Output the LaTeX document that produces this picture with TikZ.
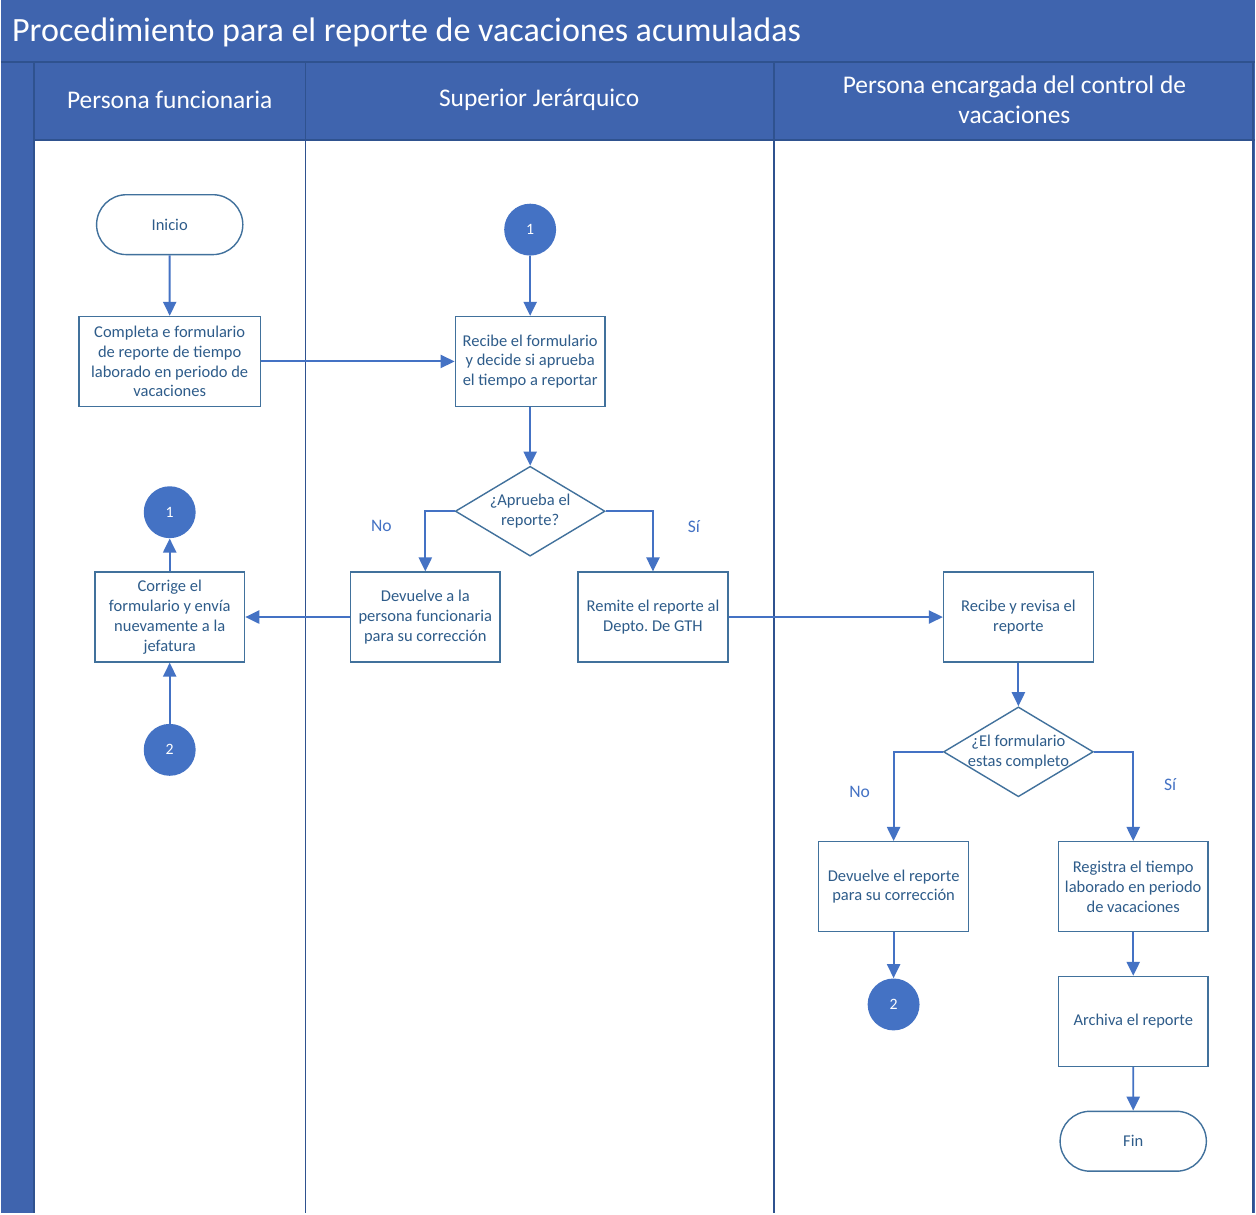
\documentclass[tikz,border=0pt]{standalone}
\usepackage{fontspec}
\setmainfont{Carlito}
\usetikzlibrary{arrows.meta,positioning,shapes.geometric,shapes.misc}
\definecolor{carril}{HTML}{3F64AE}
\definecolor{borde}{HTML}{2F528F}
\definecolor{trazo}{HTML}{41719C}
\definecolor{flecha}{HTML}{4472C4}
\definecolor{letra}{HTML}{2E5C8A}
\frenchspacing

\begin{document}
\begin{tikzpicture}[x=0.02cm,y=-0.02cm,
  caja/.style={draw=trazo,line width=0.8pt,fill=white,minimum width=3cm,minimum height=1.8cm,
               align=center,font=\fontsize{9.4}{11.3}\selectfont,text=letra,inner sep=1pt},
  terminal/.style={caja,rounded rectangle,minimum height=1.2cm},
  decision/.style={draw=trazo,line width=0.8pt,fill=white,diamond,aspect=1.67,minimum width=3cm,
               minimum height=1.8cm,align=center,font=\fontsize{9.4}{11.3}\selectfont,text=letra,inner sep=-3pt},
  conector/.style={circle,fill=flecha,minimum size=1.04cm,text=white,font=\fontsize{9}{11}\selectfont,inner sep=0pt},
  etiqueta/.style={text=flecha,font=\fontsize{10}{12}\selectfont},
  cabecera/.style={text=white,font=\fontsize{14.5}{17}\selectfont,align=center},
  linea/.style={draw=flecha,line width=1.1pt,-{Triangle[length=8pt,width=7.5pt]}}]

% carriles
\fill[carril] (0,0) rectangle (1256,1215);
\fill[white] (33,140) rectangle (1253,1215);
\draw[borde,line width=1.1pt] (0,62) -- (1256,62);
\draw[borde,line width=1.1pt] (33,140) -- (1256,140);
\draw[borde,line width=1.1pt] (33,62) -- (33,1215);
\draw[borde,line width=1.1pt] (305,62) -- (305,1215);
\draw[borde,line width=1.1pt] (774,62) -- (774,1215);
\draw[borde,line width=1.1pt] (1254,62) -- (1254,1215);

\node[anchor=west,text=white,font=\fontsize{19.4}{22}\selectfont] (titulo) at (5,32) {Procedimiento para el reporte de vacaciones acumuladas};
\node[cabecera] (carril1) at (169,100) {Persona funcionaria};
\node[cabecera] (carril2) at (539,100) {Superior Jerárquico};
\node[cabecera] (carril3) at (1015,100) {Persona encargada del control de\\vacaciones};

% nodos
\node[terminal] (inicio) at (169,225) {Inicio};
\node[caja,minimum width=3.64cm] (completa) at (169,362) {Completa e formulario\\de reporte de tiempo\\laborado en periodo de\\vacaciones};
\node[conector] (uno) at (530,230) {1};
\node[caja] (recibe) at (530,362) {Recibe el formulario\\y decide si aprueba\\el tiempo a reportar};
\node[decision] (aprueba) at (530,512) {¿Aprueba el\\reporte?};
\node[caja] (devuelve) at (425,618) {Devuelve a la\\persona funcionaria\\para su corrección};
\node[caja] (remite) at (653,618) {Remite el reporte al\\Depto. De GTH};
\node[caja] (corrige) at (169,618) {Corrige el\\formulario y envía\\nuevamente a la\\jefatura};
\node[conector] (unob) at (169,513) {1};
\node[conector] (dos) at (169,751) {2};
\node[caja] (revisa) at (1019,618) {Recibe y revisa el\\reporte};
\node[decision] (completo) at (1019,753) {¿El formulario\\estas completo};
\node[caja] (devrep) at (894,888) {Devuelve el reporte\\para su corrección};
\node[caja] (registra) at (1134,888) {Registra el tiempo\\laborado en periodo\\de vacaciones};
\node[conector] (dosb) at (894,1006) {2};
\node[caja] (archiva) at (1134,1023) {Archiva el reporte};
\node[terminal] (fin) at (1134,1143) {Fin};

\node[etiqueta] (no1) at (381,527) {No};
\node[etiqueta] (si1) at (694,527) {Sí};
\node[etiqueta] (no2) at (860,793) {No};
\node[etiqueta] (si2) at (1171,786) {Sí};

% conexiones
\draw[linea] (inicio) -- (completa);
\draw[linea] (completa) -- (recibe);
\draw[linea] (uno) -- (recibe);
\draw[linea] (recibe) -- (aprueba);
\draw[linea] (aprueba.west) -| (devuelve.north);
\draw[linea] (aprueba.east) -| (remite.north);
\draw[linea] (devuelve) -- (corrige);
\draw[linea] (corrige) -- (unob);
\draw[linea] (dos) -- (corrige);
\draw[linea] (remite) -- (revisa);
\draw[linea] (revisa) -- (completo);
\draw[linea] (completo.west) -| (devrep.north);
\draw[linea] (completo.east) -| (registra.north);
\draw[linea] (devrep) -- (dosb);
\draw[linea] (registra) -- (archiva);
\draw[linea] (archiva) -- (fin);
\end{tikzpicture}
\end{document}
